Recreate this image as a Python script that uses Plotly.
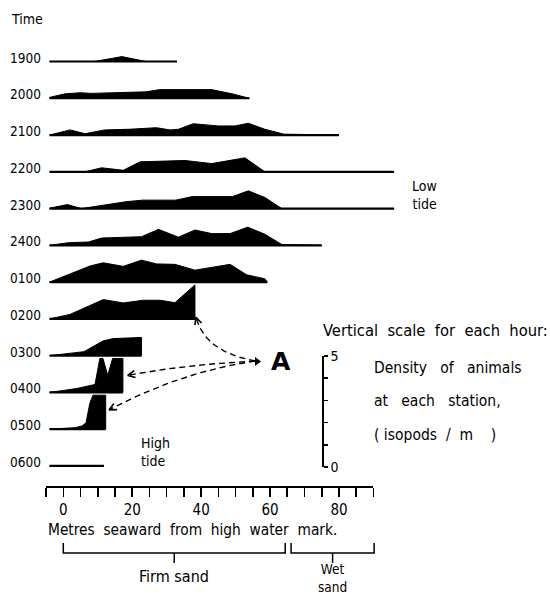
import math
import plotly.graph_objects as go

# ------------------------------------------------------------------ data
times = ["1900", "2000", "2100", "2200", "2300", "2400",
         "0100", "0200", "0300", "0400", "0500", "0600"]

# distance seaward (m) and density of isopods at each station, for each hour
x_1900 = [-4, 9, 17, 24, 33]
d_1900 = [0, 0, 0.22, 0, 0]
x_2000 = [-4, 0.5, 5, 8, 17, 24, 28, 43, 49, 54]
d_2000 = [0.04, 0.2, 0.25, 0.22, 0.25, 0.29, 0.39, 0.39, 0.2, 0.02]
x_2100 = [-4, 2, 6.3, 12, 19, 27, 31, 33.4, 37.7, 45, 49.8, 53.7, 58.5, 64, 80]
d_2100 = [0, 0.23, 0.06, 0.23, 0.26, 0.33, 0.23, 0.26, 0.51, 0.41, 0.41, 0.53, 0.26, 0.04, 0]
x_2200 = [-4, 6.3, 11.1, 17.4, 22.3, 30.5, 35.3, 43.1, 52.7, 58.5, 96]
d_2200 = [0, 0, 0.18, 0.07, 0.45, 0.47, 0.51, 0.37, 0.63, 0, 0]
x_2300 = [-4, 1.2, 5.3, 18.2, 23, 32.6, 37.5, 49.1, 53.7, 58.5, 63.4, 96]
d_2300 = [0.02, 0.18, 0, 0.31, 0.38, 0.38, 0.54, 0.54, 0.8, 0.5, 0, 0]
x_2400 = [-4, 1.5, 7.3, 11.1, 22.7, 27.6, 33.4, 38.2, 43.1, 48.4, 53.5, 58.5, 63.4, 75]
d_2400 = [0, 0.12, 0.15, 0.33, 0.39, 0.72, 0.37, 0.69, 0.53, 0.53, 0.82, 0.5, 0.04, 0]
x_0100 = [-4, 4.4, 7.8, 11.6, 17.4, 22.7, 27.1, 32.4, 38.2, 48.4, 53.2, 58.5, 59.2]
d_0100 = [0, 0.5, 0.73, 0.87, 0.71, 0.99, 0.82, 0.8, 0.54, 0.8, 0.33, 0.15, 0]
x_0200 = [-4, 1.9, 11.6, 17.4, 23.2, 28.1, 32.4, 38.2, 38.2]
d_0200 = [0, 0.2, 0.87, 0.72, 0.84, 0.84, 0.73, 1.53, 0]
x_0300 = [-4, 6, 11.5, 14.5, 22.7, 22.7]
d_0300 = [0, 0.18, 0.66, 0.77, 0.82, 0]
x_0400 = [-4, 4, 9.2, 10.6, 11.5, 12.9, 14.3, 17.3, 17.3]
d_0400 = [0, 0.18, 0.36, 1.53, 1.53, 0.77, 1.53, 1.53, 0]
x_0500 = [-4, 3.5, 5.5, 6.6, 7.7, 8.6, 12.3, 12.3]
d_0500 = [0, 0.07, 0.15, 0.29, 1.17, 1.53, 1.53, 0]
x_0600 = [-4, 11.8]
d_0600 = [0, 0]

profiles_x = [x_1900, x_2000, x_2100, x_2200, x_2300, x_2400,
              x_0100, x_0200, x_0300, x_0400, x_0500, x_0600]
profiles_d = [d_1900, d_2000, d_2100, d_2200, d_2300, d_2400,
              d_0100, d_0200, d_0300, d_0400, d_0500, d_0600]

axis_ticks = list(range(-5, 95, 5))
axis_labels = ["0", "20", "40", "60", "80"]

scale_ticks = [0, 1, 2, 3, 4, 5]
scale_labels = ["0", "", "", "", "", "5"]

zones = ["Firm sand", "Wet<br>sand"]
zone_start = [0, 66.1]
zone_end = [64.4, 90.2]

# ------------------------------------------------------------------ layout helpers
W, H = 550, 595
PX_PER_M = 3.446
X0_PX = 63.3                     # pixel of 0 m
UNIT_PX = 22.2                   # pixels per density unit
BASE0_PX = 61.5                  # baseline of the first hour
ROW_PX = 36.77                   # spacing between hours
SCALE_ZERO_PX = 467

XMIN = -X0_PX / PX_PER_M
XMAX = (W - X0_PX) / PX_PER_M
YTOP = BASE0_PX / UNIT_PX
YBOT = YTOP - H / UNIT_PX
ROW_GAP = ROW_PX / UNIT_PX


def mx(px):
    return XMIN + px / PX_PER_M


def my(py):
    return YTOP - py / UNIT_PX


def py_paper(py):
    return 1 - py / H


def px_paper(px):
    return px / W


FONT = "DejaVu Sans Condensed, DejaVu Sans"
INK = "#000000"
SP = "\u00a0"

fig = go.Figure()

# ------------------------------------------------------------------ profiles
for i, (t, xs, ds) in enumerate(zip(times, profiles_x, profiles_d)):
    base = -i * ROW_GAP
    px_ = [xs[0]] + xs + [xs[-1]]
    py_ = [base] + [base + d for d in ds] + [base]
    fig.add_trace(go.Scatter(
        x=px_, y=py_, mode="lines", fill="toself", fillcolor=INK,
        line=dict(color=INK, width=1), hoverinfo="skip", showlegend=False))
    fig.add_trace(go.Scatter(
        x=[xs[0], xs[-1]], y=[base, base], mode="lines",
        line=dict(color=INK, width=2.2), hoverinfo="skip", showlegend=False))
    fig.add_annotation(x=mx(43), y=base + 4 / UNIT_PX, xref="x", yref="y",
                       text=t, showarrow=False, xanchor="right", yanchor="middle",
                       font=dict(family=FONT, size=13.5, color=INK))

# ------------------------------------------------------------------ dashed arrows to "A"
def bezier(p0, p1, p2, n=30):
    xs, ys = [], []
    for k in range(n + 1):
        t = k / n
        a, b, c = (1 - t) ** 2, 2 * t * (1 - t), t ** 2
        xs.append(a * p0[0] + b * p1[0] + c * p2[0])
        ys.append(a * p0[1] + b * p1[1] + c * p2[1])
    return xs, ys


i200, i400, i500 = times.index("0200"), times.index("0400"), times.index("0500")
tips = [
    (x_0200[-1] + 0.3, -i200 * ROW_GAP + 0.05 * max(d_0200)),
    (x_0400[-1] + 1.4, -i400 * ROW_GAP + 0.5 * max(d_0400)),
    (x_0500[-1] + 1.0, -i500 * ROW_GAP + 0.57 * max(d_0500)),
]
start = (mx(255), my(361))
ctrls = [(mx(205), my(352)), (mx(180), my(365)), (mx(180), my(372))]

for tip, ctrl in zip(tips, ctrls):
    bx, by = bezier(start, ctrl, tip)
    fig.add_trace(go.Scatter(x=bx, y=by, mode="lines",
                             line=dict(color=INK, width=1.4, dash="6px,4px"),
                             hoverinfo="skip", showlegend=False))
    dxp = (bx[-4] - bx[-1]) * PX_PER_M
    dyp = -(by[-4] - by[-1]) * UNIT_PX
    norm = (dxp ** 2 + dyp ** 2) ** 0.5
    ux, uy = dxp / norm, dyp / norm
    L = 8
    pts = []
    for ang in (0.45, -0.45):
        ca, sa = math.cos(ang), math.sin(ang)
        rx, ry = ux * ca - uy * sa, ux * sa + uy * ca
        pts.append((tip[0] + rx * L / PX_PER_M, tip[1] - ry * L / UNIT_PX))
    fig.add_trace(go.Scatter(x=[pts[0][0], tip[0], pts[1][0]],
                             y=[pts[0][1], tip[1], pts[1][1]], mode="lines",
                             line=dict(color=INK, width=1.6),
                             hoverinfo="skip", showlegend=False))

fig.add_trace(go.Scatter(x=[mx(257)], y=[my(361.5)], mode="markers",
                         marker=dict(symbol="triangle-right", size=8, color=INK),
                         hoverinfo="skip", showlegend=False))
fig.add_annotation(x=px_paper(281), y=py_paper(362), xref="paper", yref="paper",
                   text="<b>A</b>", showarrow=False, xanchor="center", yanchor="middle",
                   font=dict(family="DejaVu Sans", size=25, color=INK))


# ------------------------------------------------------------------ texts
def label(text, px, py, anchor="left", size=14, align=None):
    fig.add_annotation(x=px_paper(px), y=py_paper(py), xref="paper", yref="paper",
                       text=text, showarrow=False, xanchor=anchor, yanchor="middle",
                       align=align or anchor,
                       font=dict(family=FONT, size=size, color=INK))


label("Time", 9, 19)
label("Low<br>tide", 439, 195, "right", 14)
label("High<br>tide", 139, 452, "left", 14)
label("Vertical  scale  for  each  hour:", 321, 330, "left", 16.4)
label(f"Density{SP}{SP} of{SP}{SP} animals", 372, 368, "left", 15.5)
label(f"at{SP}{SP} each{SP}{SP} station,", 372, 401, "left", 15.5)
label(f"( isopods{SP} /{SP} m{SP}{SP}{SP} )", 372, 435, "left", 15.5)
label("Metres  seaward  from  high  water  mark.", 46, 530, "left", 15.3)

# ------------------------------------------------------------------ sand zones
BR_TOP, BR_MID, BR_BOT = 543, 553, 563
zone_text_py = [576, 578]
zone_text_size = [16, 13.5]
for z, zs, ze, tpy, tsz in zip(zones, zone_start, zone_end, zone_text_py, zone_text_size):
    c = (zs + ze) / 2
    fig.add_shape(type="path",
                  path=f"M {zs} {my(BR_TOP)} L {zs} {my(BR_MID)} L {ze} {my(BR_MID)} L {ze} {my(BR_TOP)}",
                  xref="x", yref="y", line=dict(color=INK, width=1.5))
    fig.add_shape(type="line", x0=c, x1=c, y0=my(BR_MID), y1=my(BR_BOT),
                  xref="x", yref="y", line=dict(color=INK, width=1.5))
    fig.add_annotation(x=c, y=my(tpy), xref="x", yref="y", text=z, showarrow=False,
                       xanchor="center", yanchor="middle",
                       font=dict(family=FONT, size=tsz, color=INK))

# ------------------------------------------------------------------ ruler and vertical scale
fig.add_trace(go.Scatter(x=[None], y=[None], xaxis="x2", yaxis="y2",
                         hoverinfo="skip", showlegend=False))
fig.add_trace(go.Scatter(x=[None], y=[None], xaxis="x", yaxis="y3",
                         hoverinfo="skip", showlegend=False))

ruler_y = py_paper(486)
scale_bot = py_paper(SCALE_ZERO_PX)
scale_top = py_paper(SCALE_ZERO_PX - 5 * UNIT_PX)

fig.update_layout(
    width=W, height=H,
    margin=dict(l=0, r=0, t=0, b=0, pad=0),
    paper_bgcolor="white", plot_bgcolor="rgba(0,0,0,0)",
    showlegend=False,
    xaxis=dict(range=[XMIN, XMAX], visible=False, domain=[0, 1]),
    yaxis=dict(range=[YBOT, YTOP], visible=False, domain=[0, 1]),
    xaxis2=dict(range=[-5, 90], domain=[px_paper(X0_PX - 5 * PX_PER_M), px_paper(X0_PX + 90 * PX_PER_M)],
                anchor="y2", showline=True, linecolor=INK, linewidth=2,
                ticks="outside", ticklen=9, tickwidth=1.6, tickcolor=INK,
                tickvals=axis_ticks,
                ticktext=[(str(v) if str(v) in axis_labels else "") for v in axis_ticks],
                tickfont=dict(family=FONT, size=15, color=INK),
                showgrid=False, zeroline=False, fixedrange=True, automargin=False),
    yaxis2=dict(domain=[ruler_y, ruler_y + 0.01], visible=False, range=[0, 1]),
    yaxis3=dict(domain=[scale_bot, scale_top], range=[0, 5], anchor="free",
                position=px_paper(322), side="right", showline=True,
                linecolor=INK, linewidth=1.6, ticks="outside", ticklen=4,
                tickwidth=1.5, tickcolor=INK, tickvals=scale_ticks,
                ticktext=scale_labels,
                tickfont=dict(family=FONT, size=14, color=INK),
                showgrid=False, zeroline=False, fixedrange=True, automargin=False),
)

page_css = ("document.documentElement.style.margin='0';"
            "document.documentElement.style.overflow='hidden';"
            "document.body.style.margin='0';"
            "document.body.style.padding='0';"
            "document.body.style.overflow='hidden';")

fig.write_html("out.html", post_script=page_css,
               config={"displayModeBar": False, "staticPlot": True})
